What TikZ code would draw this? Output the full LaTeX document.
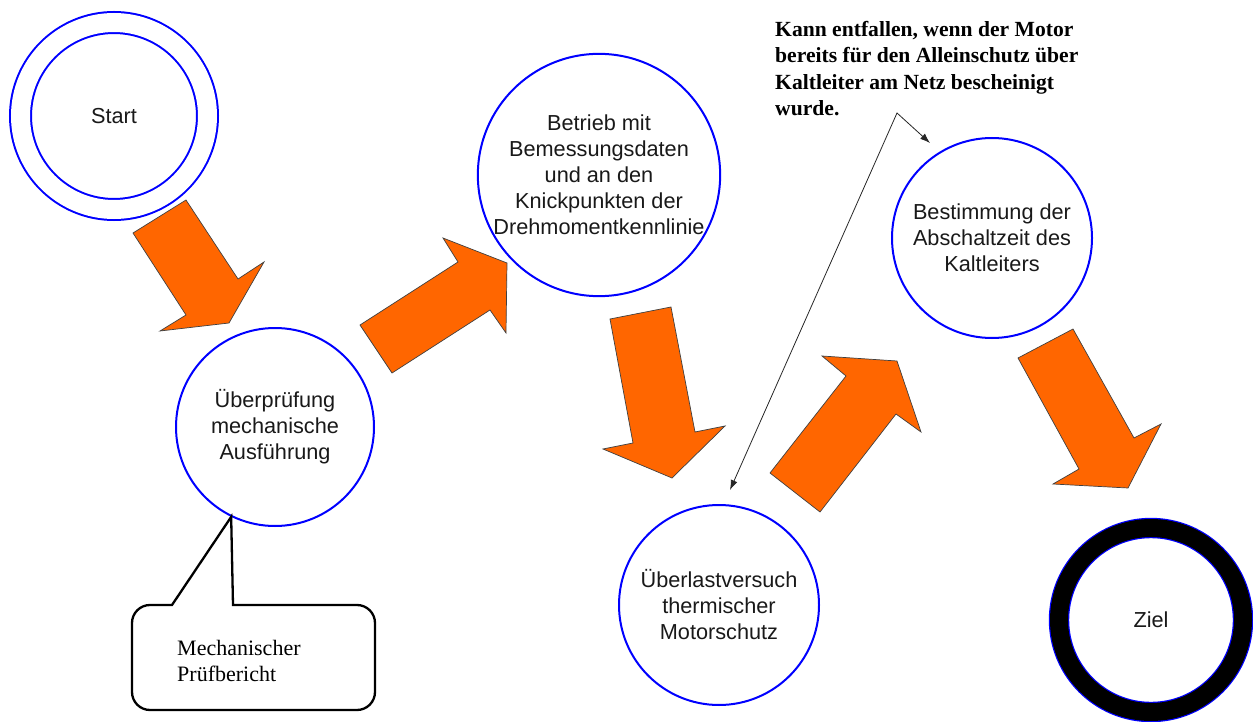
\documentclass[tikz,border=0pt]{standalone}
\usepackage{fontspec}
\setmainfont{Liberation Sans}
\newfontfamily\serifnote{Liberation Serif}
\usetikzlibrary{arrows.meta}

\definecolor{ringblue}{RGB}{0,0,255}
\definecolor{floworange}{RGB}{255,102,0}

\tikzset{
  phase/.style={circle, draw=ringblue, line width=2pt, inner sep=0pt,
    align=center, text=black!90, font=\fontsize{21.7}{26}\selectfont},
  flow/.style={fill=floworange, draw=black!75, line width=0.7pt, line join=miter},
  hint/.style={draw=black!85, line width=0.8pt,
    {Latex[length=10pt,width=7pt]}-{Latex[length=10pt,width=7pt]}},
  bubble/.style={draw=black, line width=2.3pt, line join=miter},
  bubbletext/.style={anchor=north west, inner sep=0pt, align=left,
    font=\serifnote\fontsize{22}{26}\selectfont},
  note/.style={anchor=north west, inner sep=0pt, align=left,
    font=\serifnote\bfseries\fontsize{21.6}{26.3}\selectfont}
}

\begin{document}
\begin{tikzpicture}[x=1pt, y=-1pt]

  \useasboundingbox (0,0) rectangle (1253,722);

  % Define nodes
  \node[phase, double=white, double distance=19pt, minimum size=187pt] (start) at (114,116) {Start};
  \node[phase, minimum size=198pt] (pruefung) at (275,427) {Überprüfung\\mechanische\\Ausführung};
  \node[phase, minimum size=232pt] (betrieb) at (599,175) {Betrieb mit\\Bemessungsdaten\\und an den\\Knickpunkten der\\Drehmomentkennlinie};
  \node[phase, minimum size=200pt] (ueberlast) at (719,605) {Überlastversuch\\thermischer\\Motorschutz};
  \node[phase, minimum size=200pt] (abschalt) at (992,238) {Bestimmung der\\Abschaltzeit des\\Kaltleiters};
  \node[phase, line width=1.2pt, double=black, double distance=18pt, minimum size=184pt] (ziel) at (1151,620) {Ziel};

  \node[note] (hinweis) at (775,21) {Kann entfallen, wenn der Motor\\bereits für den Alleinschutz über\\Kaltleiter am Netz bescheinigt\\wurde.};

  % Callout
  \draw[bubble] (172,605) -- (pruefung.244) -- (233,605) -- (357,605)
    arc[start angle=-90, end angle=0, radius=18] -- (375,692)
    arc[start angle=0, end angle=90, radius=18] -- (150,710)
    arc[start angle=90, end angle=180, radius=18] -- (132,623)
    arc[start angle=180, end angle=270, radius=18] -- cycle;
  \node[bubbletext] (bericht) at (177,640) {Mechanischer\\Prüfbericht};

  % Block arrows
  \draw[flow] (133,233) -- (186,200) -- (238,279) -- (264,262) -- (229,323) -- (160,331) -- (186,315) -- cycle;
  \draw[flow] (360,325) -- (458,262) -- (443,238) -- (507,263) -- (506,333) -- (490,310) -- (392,373) -- cycle;
  \draw[flow] (610,319) -- (671,307) -- (695,432) -- (725,426) -- (672,478) -- (603,449) -- (633,443) -- cycle;
  \draw[flow] (770,473) -- (846,376) -- (822,356) -- (897,361) -- (921,432) -- (896,414) -- (820,512) -- cycle;
  \draw[flow] (1018,358) -- (1073,329) -- (1134,438) -- (1161,424) -- (1128,488) -- (1053,484) -- (1079,469) -- cycle;

  % Connect the note
  \coordinate (knick) at (897,113);
  \coordinate (zuUeberlast) at (730,490);
  \coordinate (zuAbschalt) at (930,143);
  \draw[hint] (zuUeberlast) -- (knick) -- (zuAbschalt);

\end{tikzpicture}
\end{document}
